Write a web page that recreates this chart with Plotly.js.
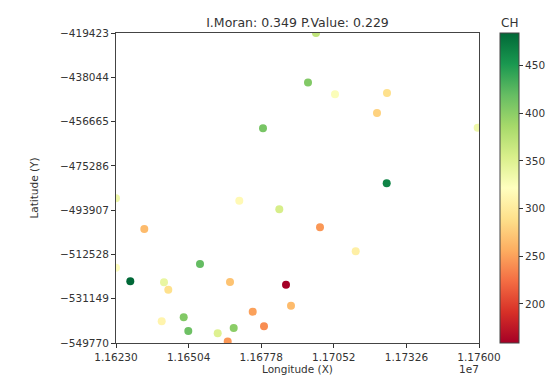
<!DOCTYPE html>
<html>
<head>
<meta charset="utf-8">
<script src="https://cdn.plot.ly/plotly-3.0.1.min.js"></script>
<style>
html,body{margin:0;padding:0;background:#fff;}
#chart{width:560px;height:376px;}
</style>
</head>
<body>
<div id="chart"></div>
<script>
// Longitude (X) of each point
var lon = [11698482, 11695463, 11705653, 11725278, 11721504, 11759500, 11678479, 11725165,
           11623000, 11669535, 11684631, 11633681, 11699992, 11713465, 11623000, 11654702,
           11628397, 11641116, 11642739, 11666025, 11687160, 11689047, 11674592, 11648551,
           11640248, 11678857, 11650287, 11667421, 11661382, 11665157];
// Latitude (Y) of each point
var lat = [-419423, -440236, -445198, -444651, -453061, -459241, -459494, -482578,
           -488927, -489936, -493552, -501835, -501120, -511212, -518107, -516552,
           -523826, -524246, -527358, -524120, -525255, -534085, -536608, -538963,
           -540644, -542747, -544723, -543462, -545690, -549138];
// CH value of each point
var ch = [370, 405, 325, 290, 280, 335, 410, 465,
          335, 315, 355, 265, 245, 305, 320, 420,
          484, 340, 290, 270, 159, 265, 250, 405,
          310, 240, 415, 400, 350, 245];

var yTickVals = [-419423, -438044, -456665, -475286, -493907, -512528, -531149, -549770];
var yTickText = ["\u2212419423", "\u2212438044", "\u2212456665", "\u2212475286",
                 "\u2212493907", "\u2212512528", "\u2212531149", "\u2212549770"];
var xTickVals = [11623000, 11650400, 11677800, 11705200, 11732600, 11760000];
var xTickText = ["1.16230", "1.16504", "1.16778", "1.17052", "1.17326", "1.17600"];
var cbTickVals = [200, 250, 300, 350, 400, 450];

var RdYlGn = [
  [0.0, '#a50026'], [0.1, '#d73027'], [0.2, '#f46d43'], [0.3, '#fdae61'],
  [0.4, '#fee08b'], [0.5, '#ffffbf'], [0.6, '#d9ef8b'], [0.7, '#a6d96a'],
  [0.8, '#66bd63'], [0.9, '#1a9850'], [1.0, '#006837']
];

var font = "DejaVu Sans, sans-serif";

var trace = {
  type: 'scatter',
  mode: 'markers',
  x: lon,
  y: lat,
  cliponaxis: true,
  marker: {
    size: 8,
    color: ch,
    cmin: 159,
    cmax: 484,
    colorscale: RdYlGn,
    line: {width: 0},
    colorbar: {
      x: 1.058, xanchor: 'left', xref: 'paper',
      y: 0, yanchor: 'bottom', len: 1, lenmode: 'fraction',
      thickness: 19,
      outlinewidth: 1, outlinecolor: '#444',
      ticks: 'outside', ticklen: 4, tickwidth: 1, tickcolor: '#333',
      tickvals: cbTickVals,
      tickfont: {family: font, size: 10.5, color: '#333'},
      xpad: 0, ypad: 0
    }
  },
  hoverinfo: 'x+y+text'
};

var layout = {
  width: 560, height: 376,
  margin: {l: 116, r: 81, t: 33, b: 33},
  paper_bgcolor: '#fff',
  plot_bgcolor: '#fff',
  showlegend: false,
  title: {
    text: 'I.Moran: 0.349 P.Value: 0.229',
    font: {family: font, size: 12.5, color: '#333'},
    x: 0.5, xref: 'paper', xanchor: 'center',
    y: 1, yref: 'paper', yanchor: 'bottom', pad: {b: 6}
  },
  xaxis: {
    range: [11623000, 11760000],
    tickvals: xTickVals, ticktext: xTickText,
    ticks: 'outside', ticklen: 4, tickcolor: '#333',
    showgrid: false, zeroline: false,
    showline: true, mirror: true, linecolor: '#444', linewidth: 1,
    tickfont: {family: font, size: 10.5, color: '#333'},
    title: {text: 'Longitude (X)', font: {family: font, size: 10.5, color: '#333'}, standoff: 4}
  },
  yaxis: {
    range: [-549770, -419423],
    tickvals: yTickVals, ticktext: yTickText,
    ticks: 'outside', ticklen: 4, tickcolor: '#333',
    showgrid: false, zeroline: false,
    showline: true, mirror: true, linecolor: '#444', linewidth: 1,
    tickfont: {family: font, size: 10.5, color: '#333'},
    title: {text: 'Latitude (Y)', font: {family: font, size: 10.5, color: '#333'}, standoff: 19}
  },
  annotations: [{
    text: '1e7', xref: 'paper', yref: 'paper', x: 1, y: 0,
    xanchor: 'right', yanchor: 'top', yshift: -18, xshift: 2, showarrow: false,
    font: {family: font, size: 10.5, color: '#333'}
  }, {
    text: 'CH', xref: 'paper', yref: 'paper', x: 1.083, y: 1,
    xanchor: 'center', yanchor: 'bottom', yshift: 1, showarrow: false,
    font: {family: font, size: 12, color: '#333'}
  }]
};

Plotly.newPlot('chart', [trace], layout, {displayModeBar: false, staticPlot: true});
</script>
</body>
</html>
